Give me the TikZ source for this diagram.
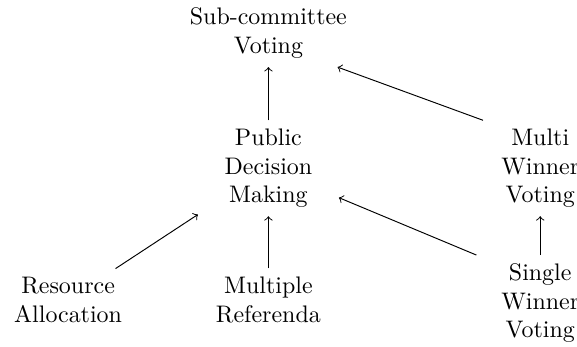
\documentclass[tikz,border=0pt]{standalone}
\usepackage{tikz}
\usetikzlibrary{positioning}
\tikzset{%
  topicNode/.style={%
    text width=1.82cm,
    align=center
  },
  wideNode/.style={%
    text width=2.4cm,
    align=center
  },
  arrowLine/.style={%
    ->
  }
}

\begin{document}
\begin{tikzpicture}[on grid]
  \useasboundingbox (-3.94,2.47) rectangle (4.53,-2.61);

  \node[topicNode] (public) {Public Decision Making};
  \node[wideNode, above=1.98cm of public] (sub) {Sub-committee Voting};
  \node[topicNode, right=3.99cm of public] (multi) {Multi Winner Voting};
  \node[topicNode, below=1.98cm of multi] (single) {Single Winner Voting};
  \node[topicNode, below=1.93cm of public] (referenda) {Multiple Referenda};
  \node[topicNode, left=2.94cm of referenda] (resource) {Resource Allocation};

  \draw[arrowLine] (public) -- (sub);
  \draw[arrowLine] (multi.140) -- (sub.-26);
  \draw[arrowLine] (resource) -- (public);
  \draw[arrowLine] (referenda) -- (public);
  \draw[arrowLine] (single.143) -- (public);
  \draw[arrowLine] (single) -- (multi);
\end{tikzpicture}
\end{document}
